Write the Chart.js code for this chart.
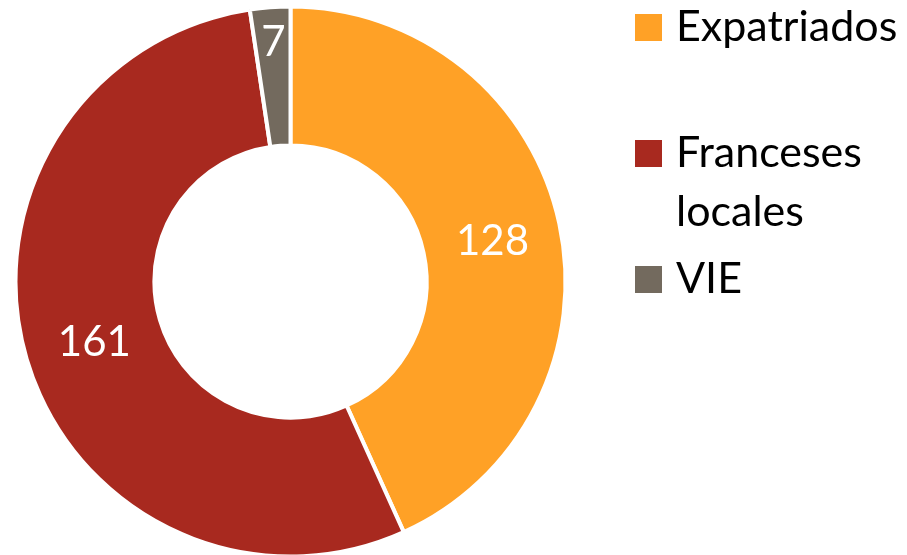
<!DOCTYPE html>
<html>
<head>
<meta charset="utf-8">
<script src="https://cdn.jsdelivr.net/npm/chart.js@4/dist/chart.umd.min.js"></script>
<style>
  html, body { margin: 0; padding: 0; background: #fff; }
  #wrap { position: relative; width: 907px; height: 555px; }
</style>
</head>
<body>
<div id="wrap"><canvas id="donut" width="907" height="555"></canvas></div>
<script>
const categories = ['Expatriados', ['Franceses', 'locales'], 'VIE'];
const values = [128, 161, 7];
const colors = ['#FFA126', '#A8291F', '#736A5E'];

const FONT = 'Lato, "Open Sans", sans-serif';

// value labels inside the ring (radial position 0 = inner edge, 1 = outer edge)
const valueLabels = {
    id: 'valueLabels',
    afterDatasetsDraw(chart) {
        const { ctx } = chart;
        const meta = chart.getDatasetMeta(0);
        const radial = [0.5, 0.5, 0.77];
        ctx.save();
        ctx.fillStyle = '#fff';
        ctx.font = '42px ' + FONT;
        ctx.textAlign = 'center';
        ctx.textBaseline = 'middle';
        meta.data.forEach((arc, i) => {
            const p = arc.getProps(['x', 'y', 'startAngle', 'endAngle', 'innerRadius', 'outerRadius'], true);
            const a = (p.startAngle + p.endAngle) / 2;
            const r = p.innerRadius + (p.outerRadius - p.innerRadius) * radial[i];
            ctx.fillText(String(chart.data.datasets[0].data[i]), p.x + Math.cos(a) * r + 1, p.y + Math.sin(a) * r + 3);
        });
        ctx.restore();
    }
};

// legend on the right, laid out like the office chart
const sideLegend = {
    id: 'sideLegend',
    afterDraw(chart) {
        const { ctx } = chart;
        const baselines = [41, 167, 293];
        const lineGap = 59;
        ctx.save();
        ctx.font = '43px ' + FONT;
        ctx.textBaseline = 'alphabetic';
        ctx.textAlign = 'left';
        chart.data.labels.forEach((label, i) => {
            const y = baselines[i];
            ctx.fillStyle = colors[i];
            ctx.fillRect(635, y - 27, 27, 27);
            ctx.fillStyle = '#000';
            const lines = Array.isArray(label) ? label : [label];
            lines.forEach((t, k) => ctx.fillText(t, 676, y + k * lineGap));
        });
        ctx.restore();
    }
};

new Chart(document.getElementById('donut'), {
    type: 'doughnut',
    data: {
        labels: categories,
        datasets: [{
            data: values,
            backgroundColor: colors,
            borderColor: '#fff',
            borderWidth: 4,
            hoverOffset: 0,
            offset: 0
        }]
    },
    options: {
        responsive: false,
        animation: false,
        events: [],
        radius: 275,
        cutout: '49.5%',
        layout: { padding: { left: 16, right: 342, top: 8, bottom: 0 } },
        plugins: {
            legend: { display: false },
            tooltip: { enabled: false }
        }
    },
    plugins: [valueLabels, sideLegend]
});
</script>
</body>
</html>
